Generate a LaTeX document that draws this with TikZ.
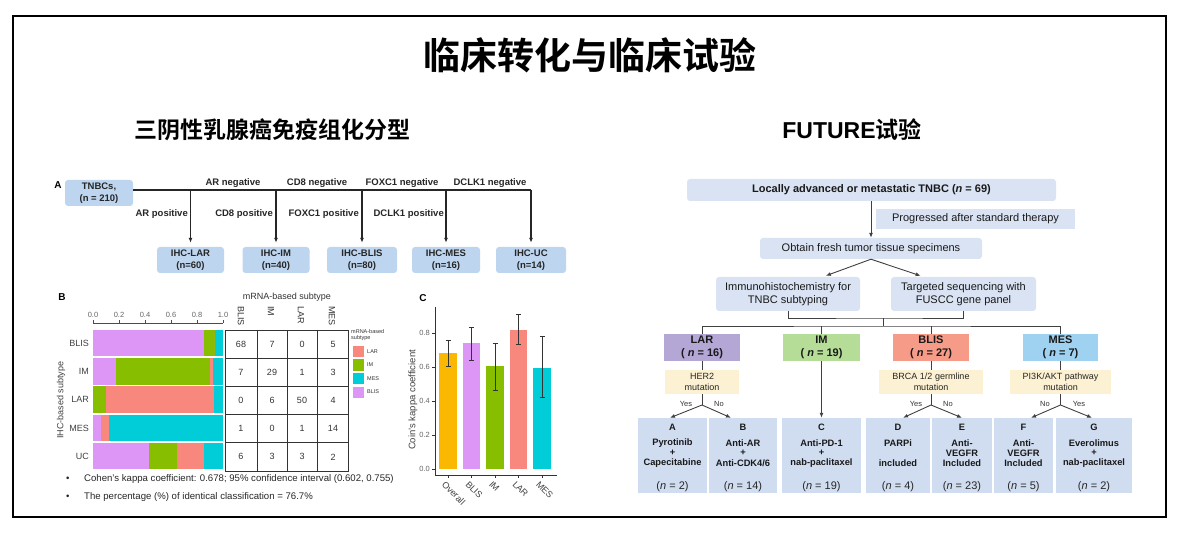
\documentclass[tikz,border=0pt]{standalone}
\usepackage{fontspec}
\setmainfont{Liberation Sans}
\newfontfamily\cjk{Noto Sans CJK SC Bold}
\usetikzlibrary{arrows.meta,positioning}
\definecolor{ihcblue}{RGB}{189,213,238}
\definecolor{flowblue}{RGB}{218,227,243}
\definecolor{trtblue}{RGB}{208,221,241}
\definecolor{larpurple}{RGB}{180,167,214}
\definecolor{imgreen}{RGB}{182,221,152}
\definecolor{blissalmon}{RGB}{245,155,135}
\definecolor{mesblue}{RGB}{158,210,240}
\definecolor{mutcream}{RGB}{252,241,210}
\definecolor{gBLIS}{RGB}{221,150,245}
\definecolor{gIM}{RGB}{136,190,0}
\definecolor{gLAR}{RGB}{248,135,125}
\definecolor{gMES}{RGB}{0,205,215}
\definecolor{gALL}{RGB}{250,185,0}
\newcommand{\fs}[2]{\fontsize{#1}{#2}\selectfont}
% treatment arm: name, x, width, letter, three drug lines, n
\newcommand{\trt}[8]{%
  \node[trtbox,minimum width=#3] (#1) at (#2,455.5) {};
  \node[trtlab] (#1-a) at (#2,427) {#4};
  \node[trtlab] (#1-b) at (#2,443) {#5};
  \node[trtlab] (#1-c) at (#2,453) {#6};
  \node[trtlab] (#1-d) at (#2,463) {#7};
  \node[nlab] (#1-n) at (#2,487) {(\textit{n} = #8)};}

\begin{document}
\begin{tikzpicture}[x=1pt,y=-1pt,
  ihcbox/.style={fill=ihcblue,rounded corners=3pt,align=center,inner sep=1pt,minimum height=26pt,font=\fs{9.5}{11.5}\bfseries,text=black!85},
  cond/.style={inner sep=1pt,font=\fs{9.5}{11}\bfseries,text=black!85},
  arr/.style={-{Latex[length=5pt,width=4pt]}},
  axlab/.style={inner sep=1pt,font=\fs{7.5}{8.5},text=black!60},
  rowlab/.style={inner sep=1pt,font=\fs{9}{10},text=black!75},
  cell/.style={inner sep=0pt,font=\fs{9}{10},text=black!80},
  note/.style={inner sep=0pt,anchor=west,font=\fs{9.6}{11},text=black!85},
  flowbox/.style={fill=flowblue,rounded corners=3pt,align=center,inner sep=1pt,font=\fs{11}{12.5},text=black!90},
  subbox/.style={align=center,inner sep=1pt,minimum height=27pt,font=\fs{11}{12.5}\bfseries,text=black!90},
  mutbox/.style={fill=mutcream,align=center,inner sep=1pt,minimum height=24pt,font=\fs{9}{11},text=black!85},
  trtbox/.style={fill=trtblue,minimum height=75pt,inner sep=0pt},
  trtlab/.style={inner sep=0pt,font=\fs{9.3}{10}\bfseries,text=black!90},
  nlab/.style={inner sep=0pt,font=\fs{11}{12},text=black!85},
  yn/.style={inner sep=0pt,font=\fs{7.5}{8},text=black!80},
  link/.style={draw=black!75,line width=0.9pt}]
\useasboundingbox (0,0) rectangle (1181,553);
\draw[line width=2pt] (13,16) rectangle (1166,517);

\node[font={\cjk\fs{37}{40}}] (title) at (590,55) {临床转化与临床试验};
\node[font={\cjk\fs{23}{26}}] (subL) at (272,130) {三阴性乳腺癌免疫组化分型};
\node (subR) at (852,130) {{\bfseries\fs{23}{26}FUTURE}{\cjk\fs{23}{26}试验}};

% A: IHC decision tree
\node[font=\fs{10}{11}\bfseries] (lblA) at (58,185) {A};
\node[ihcbox,minimum width=68pt] (tnbc) at (99,193) {TNBCs,\\(n = 210)};
\node[ihcbox,minimum width=67pt] (ihcLAR) at (190.5,260) {IHC-LAR\\(n=60)};
\node[ihcbox,minimum width=67pt] (ihcIM) at (276,260) {IHC-IM\\(n=40)};
\node[ihcbox,minimum width=70pt] (ihcBLIS) at (362,260) {IHC-BLIS\\(n=80)};
\node[ihcbox,minimum width=68pt] (ihcMES) at (446,260) {IHC-MES\\(n=16)};
\node[ihcbox,minimum width=70pt] (ihcUC) at (531,260) {IHC-UC\\(n=14)};
\foreach \nm/\xv in {LAR/190.5,IM/276,BLIS/362,MES/446,UC/531} \coordinate (j\nm) at (\xv,190);
\draw[line width=1.2pt,black!85] (tnbc.east |- jLAR) -- (jUC);
\foreach \nm in {LAR,IM,BLIS,MES,UC} \draw[line width=1.2pt,black!85,arr,shorten >=4pt] (j\nm) -- (ihc\nm.north);
\node[cond,anchor=south] (negAR) at (233,189) {AR negative};
\node[cond,anchor=south] (negCD8) at (317,189) {CD8 negative};
\node[cond,anchor=south] (negFOX) at (402,189) {FOXC1 negative};
\node[cond,anchor=south] (negDCL) at (490,189) {DCLK1 negative};
\node[cond,anchor=east] (posAR) at (189,214) {AR positive};
\node[cond,anchor=east] (posCD8) at (274,214) {CD8 positive};
\node[cond,anchor=east] (posFOX) at (360,214) {FOXC1 positive};
\node[cond,anchor=east] (posDCL) at (445,214) {DCLK1 positive};

% B: stacked bars and confusion table
\node[font=\fs{10}{11}\bfseries] (lblB) at (62,297) {B};
\draw[black!70] (93,323) -- (223,323);
\foreach \t in {0.0,0.2,0.4,0.6,0.8,1.0} {
  \draw[black!70] (93+130*\t,323) -- (93+130*\t,320);
  \node[axlab,anchor=south] at (93+130*\t,319) {\t};}
\foreach \nm/\a/\b/\c/\d [count=\i from 0] in {BLIS/68/7/0/5,IM/7/29/1/3,LAR/0/6/50/4,MES/1/0/1/14,UC/6/3/3/2} {
  \pgfmathsetmacro\tot{\a+\b+\c+\d}
  \pgfmathsetmacro\yt{330+28.2*\i}
  \pgfmathsetmacro\xa{93+130*\a/\tot}
  \pgfmathsetmacro\xb{\xa+130*\b/\tot}
  \pgfmathsetmacro\xc{\xb+130*\c/\tot}
  \fill[gBLIS] (93,\yt) rectangle (\xa,\yt+26.5);
  \fill[gIM] (\xa,\yt) rectangle (\xb,\yt+26.5);
  \fill[gLAR] (\xb,\yt) rectangle (\xc,\yt+26.5);
  \fill[gMES] (\xc,\yt) rectangle (223,\yt+26.5);
  \node[rowlab,anchor=east] (row\nm) at (90,\yt+13.5) {\nm};
  \node[cell] (c\nm1) at (241,\yt+14.1) {\a};
  \node[cell] (c\nm2) at (272,\yt+14.1) {\b};
  \node[cell] (c\nm3) at (302,\yt+14.1) {\c};
  \node[cell] (c\nm4) at (333,\yt+14.1) {\d};}
\draw[black!80,line width=0.8pt] (225,330) rectangle (348,471);
\foreach \k in {1,...,4} \draw[black!80,line width=0.8pt] (225,330+28.2*\k) -- (348,330+28.2*\k);
\foreach \xv in {257,287,317} \draw[black!80,line width=0.8pt] (\xv,330) -- (\xv,471);
\node[cell] (mhead) at (287,297) {mRNA-based subtype};
\foreach \nm/\xv in {BLIS/241,IM/271,LAR/301,MES/332} \node[cell,rotate=-90,anchor=west] (h\nm) at (\xv,306) {\nm};
\node[rowlab,rotate=90] (ihclab) at (61,400) {IHC-based subtype};
\node[inner sep=0pt,anchor=north west,align=left,font=\fs{5.5}{6.5},text=black!80] (leghead) at (351,329) {mRNA-based\\subtype};
\foreach \nm [count=\k from 0] in {LAR,IM,MES,BLIS} {
  \fill[g\nm] (353,346+13.5*\k) rectangle +(11,11);
  \node[inner sep=0pt,anchor=west,font=\fs{5.5}{6},text=black!80] (leg\nm) at (367,351.5+13.5*\k) {\nm};}
\node[note] (dot1) at (66,479) {•};
\node[note] (kappa) at (84,479) {Cohen’s kappa coefficient: 0.678; 95\% confidence interval (0.602, 0.755)};
\node[note] (dot2) at (66,497) {•};
\node[note] (ident) at (84,497) {The percentage (\%) of identical classification = 76.7\%};

% C: kappa per subtype
\node[font=\fs{10}{11}\bfseries] (lblC) at (423,298) {C};
\draw[black!80,line width=0.8pt] (435,307) -- (435,475) -- (557,475);
\foreach \t in {0.0,0.2,0.4,0.6,0.8} {
  \draw[black!80] (435,469-170*\t) -- (432,469-170*\t);
  \node[axlab,anchor=east] at (431,469-170*\t) {\t};}
\foreach \lab/\v/\lo/\hi/\col [count=\i from 0] in {Overall/0.68/0.602/0.755/gALL,BLIS/0.74/0.64/0.835/gBLIS,IM/0.605/0.465/0.74/gIM,LAR/0.82/0.735/0.91/gLAR,MES/0.597/0.42/0.78/gMES} {
  \pgfmathsetmacro\xc{448+23.5*\i}
  \fill[\col] (\xc-8.75,469) rectangle (\xc+8.75,469-170*\v);
  \draw[black!80,line width=0.7pt] (\xc,469-170*\lo) -- (\xc,469-170*\hi);
  \draw[black!80,line width=0.7pt] (\xc-2.5,469-170*\lo) -- (\xc+2.5,469-170*\lo);
  \draw[black!80,line width=0.7pt] (\xc-2.5,469-170*\hi) -- (\xc+2.5,469-170*\hi);
  \draw[black!80] (\xc,475) -- (\xc,478);
  \node[rowlab,rotate=-45,anchor=north west] (x\lab) at (\xc-2,479) {\lab};}
\node[rowlab,font=\fs{9.5}{10}] (kaplab) at (413,400) [rotate=90] {Coin’s kappa coefficient};

% FUTURE trial flow
\node[flowbox,minimum width=369pt,minimum height=22pt,font=\fs{11}{12.5}\bfseries] (pop) at (871.5,190) {Locally advanced or metastatic TNBC (\textit{n} = 69)};
\node[flowbox,minimum width=199pt,minimum height=20pt,rounded corners=0pt] (prog) at (975.5,219) {Progressed after standard therapy};
\node[flowbox,minimum width=222pt,minimum height=21pt] (obt) at (871,248.5) {Obtain fresh tumor tissue specimens};
\node[flowbox,minimum width=144pt,minimum height=34pt] (ihc) at (788,294) {Immunohistochemistry for\\TNBC subtyping};
\node[flowbox,minimum width=145pt,minimum height=34pt] (seq) at (963.5,294) {Targeted sequencing with\\FUSCC gene panel};
\draw[link,arr] (obt.north |- pop.south) -- (obt.north);
\draw[link,arr,shorten >=3pt] (obt.south) -- ([xshift=35pt]ihc.north);
\draw[link,arr,shorten >=3pt] (obt.south) -- ([xshift=-40pt]seq.north);

\node[subbox,fill=larpurple,minimum width=76pt] (sLAR) at (702,347.5) {LAR\\(~\textit{n} = 16)};
\node[subbox,fill=imgreen,minimum width=77pt] (sIM) at (821.5,347.5) {IM\\(~\textit{n} = 19)};
\node[subbox,fill=blissalmon,minimum width=76pt] (sBLIS) at (931,347.5) {BLIS\\(~\textit{n} = 27)};
\node[subbox,fill=mesblue,minimum width=75pt] (sMES) at (1060.5,347.5) {MES\\(~\textit{n} = 7)};
\coordinate (merge) at (883,318);
\coordinate (split) at (883,326);
\draw[link] (ihc.south) |- (merge) -| (seq.south);
\draw[link] (merge) -- (split);
\draw[link] (sLAR.north) |- (split) -| (sMES.north);
\draw[link] (sIM.north) -- (sIM.north |- split);
\draw[link] (sBLIS.north) -- (sBLIS.north |- split);

\node[mutbox,minimum width=74pt] (mHER2) at (702,382) {HER2\\mutation};
\node[mutbox,minimum width=104pt] (mBRCA) at (931,382) {BRCA 1/2 germline\\mutation};
\node[mutbox,minimum width=101pt] (mPI3K) at (1060.5,382) {PI3K/AKT pathway\\mutation};
\draw[link] (sLAR) -- (mHER2);
\draw[link] (sBLIS) -- (mBRCA);
\draw[link] (sMES) -- (mPI3K);

\trt{tA}{672.5}{69pt}{A}{Pyrotinib}{+}{Capecitabine}{2}
\trt{tB}{743}{68pt}{B}{Anti-AR}{+}{Anti-CDK4/6}{14}
\trt{tC}{821.5}{79pt}{C}{Anti-PD-1}{+}{nab-paclitaxel}{19}
\trt{tD}{898}{64pt}{D}{PARPi}{}{included}{4}
\trt{tE}{962}{60pt}{E}{Anti-}{VEGFR}{Included}{23}
\trt{tF}{1023.5}{59pt}{F}{Anti-}{VEGFR}{Included}{5}
\trt{tG}{1094}{76pt}{G}{Everolimus}{+}{nab-paclitaxel}{2}

\coordinate (fLAR) at (702,405);
\coordinate (fBLIS) at (931,405);
\coordinate (fMES) at (1060.5,405);
\draw[link] (mHER2) -- (fLAR);
\draw[link] (mBRCA) -- (fBLIS);
\draw[link] (mPI3K) -- (fMES);
\draw[link,arr] (fLAR) -- ([xshift=-2.5pt]tA.north);
\draw[link,arr] (fLAR) -- ([xshift=-12pt]tB.north);
\draw[link,arr] (fBLIS) -- ([xshift=5pt]tD.north);
\draw[link,arr] (fBLIS) -- (tE.north);
\draw[link,arr] (fMES) -- ([xshift=7.5pt]tF.north);
\draw[link,arr] (fMES) -- ([xshift=-2pt]tG.north);
\draw[link,arr] (sIM) -- (tC);
\node[yn] (yLAR) at (686,404) {Yes};
\node[yn] (nLAR) at (719,404) {No};
\node[yn] (yBLIS) at (916,404) {Yes};
\node[yn] (nBLIS) at (948,404) {No};
\node[yn] (nMES) at (1045,404) {No};
\node[yn] (yMES) at (1079,404) {Yes};
\end{tikzpicture}
\end{document}
